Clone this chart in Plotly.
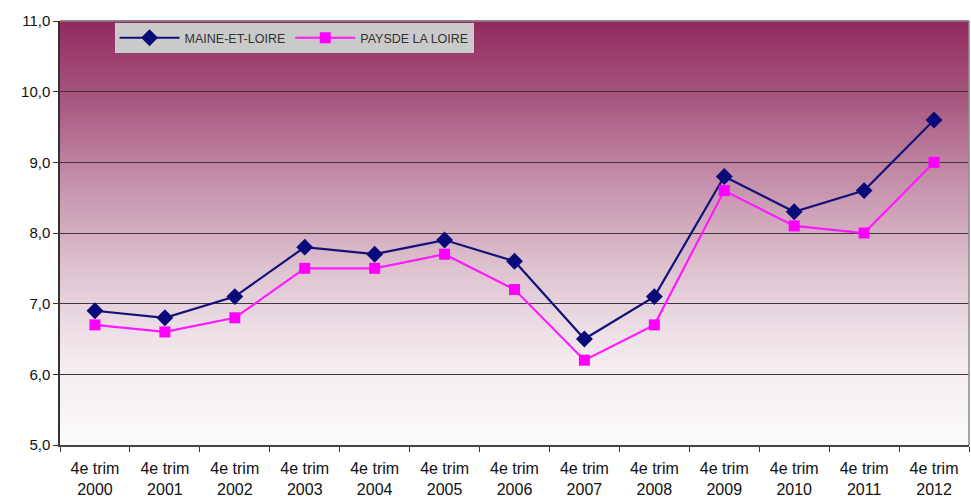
import plotly.graph_objects as go
import numpy as np

years = ["2000", "2001", "2002", "2003", "2004", "2005", "2006",
         "2007", "2008", "2009", "2010", "2011", "2012"]
categories = ["4e trim<br>" + y for y in years]
maine_et_loire = [6.9, 6.8, 7.1, 7.8, 7.7, 7.9, 7.6, 6.5, 7.1, 8.8, 8.3, 8.6, 9.6]
pays_de_la_loire = [6.7, 6.6, 6.8, 7.5, 7.5, 7.7, 7.2, 6.2, 6.7, 8.6, 8.1, 8.0, 9.0]
y_ticks = [5, 6, 7, 8, 9, 10, 11]
y_tick_labels = ["5,0", "6,0", "7,0", "8,0", "9,0", "10,0", "11,0"]

fig = go.Figure()
fig.add_trace(go.Scatter(
    x=categories, y=maine_et_loire, name="MAINE-ET-LOIRE", mode="lines+markers",
    line=dict(color="#12127A", width=2.2),
    marker=dict(symbol="diamond", size=13, color="#0A0A78"),
))
fig.add_trace(go.Scatter(
    x=categories, y=pays_de_la_loire, name="PAYSDE LA LOIRE", mode="lines+markers",
    line=dict(color="#FF1AFF", width=2.2),
    marker=dict(symbol="square", size=11, color="#FF00FF"),
))

# vertical gradient background (purple at top -> white at bottom)
stops_t = [0.0, 0.2, 0.4, 0.6, 0.8, 1.0]
stops_c = [(252, 251, 252), (244, 236, 240), (224, 198, 211), (200, 150, 175),
           (170, 92, 130), (146, 42, 94)]
shapes = []
n = 120
for i in range(n):
    t0 = i / n
    t1 = (i + 1) / n
    tm = (t0 + t1) / 2
    r = np.interp(tm, stops_t, [c[0] for c in stops_c])
    g = np.interp(tm, stops_t, [c[1] for c in stops_c])
    b = np.interp(tm, stops_t, [c[2] for c in stops_c])
    shapes.append(dict(type="rect", xref="x domain", yref="y domain",
                       x0=0, x1=1, y0=t0, y1=t1 + 0.002, layer="below",
                       line=dict(width=0),
                       fillcolor=f"rgb({int(r)},{int(g)},{int(b)})"))
# plot frame (top and right edges)
shapes.append(dict(type="line", xref="x domain", yref="y domain", x0=0, x1=1, y0=1, y1=1,
                   line=dict(color="#8a8a8a", width=1.5)))
shapes.append(dict(type="line", xref="x domain", yref="y domain", x0=1, x1=1, y0=0, y1=1,
                   line=dict(color="#8a8a8a", width=1.5)))

fig.update_layout(
    width=971, height=504,
    margin=dict(l=60, r=2, t=21, b=59),
    paper_bgcolor="white", plot_bgcolor="white",
    font=dict(family="Liberation Sans, Arial, sans-serif", size=15, color="#111111"),
    shapes=shapes,
    showlegend=True,
    legend=dict(
        orientation="h", x=0.06, y=0.995, xanchor="left", yanchor="top",
        bgcolor="#CACACA", font=dict(size=12.5, color="#333333"),
        itemwidth=60, borderwidth=0, tracegroupgap=0,
    ),
    xaxis=dict(
        type="category", tickson="boundaries", ticks="outside", ticklen=5,
        tickcolor="#333333", showline=True, linecolor="#444444", linewidth=2,
        showgrid=False, range=[-0.5, 12.5], tickfont=dict(size=16),
        ticklabelstandoff=8,
    ),
    yaxis=dict(
        range=[5, 11], tickvals=y_ticks, ticktext=y_tick_labels,
        ticks="outside", ticklen=5, tickcolor="#333333",
        showline=True, linecolor="#333333", linewidth=1.5,
        showgrid=True, gridcolor="#3a3a3a", gridwidth=1, zeroline=False,
        tickfont=dict(size=15),
    ),
)

fig.write_html("out.html")
